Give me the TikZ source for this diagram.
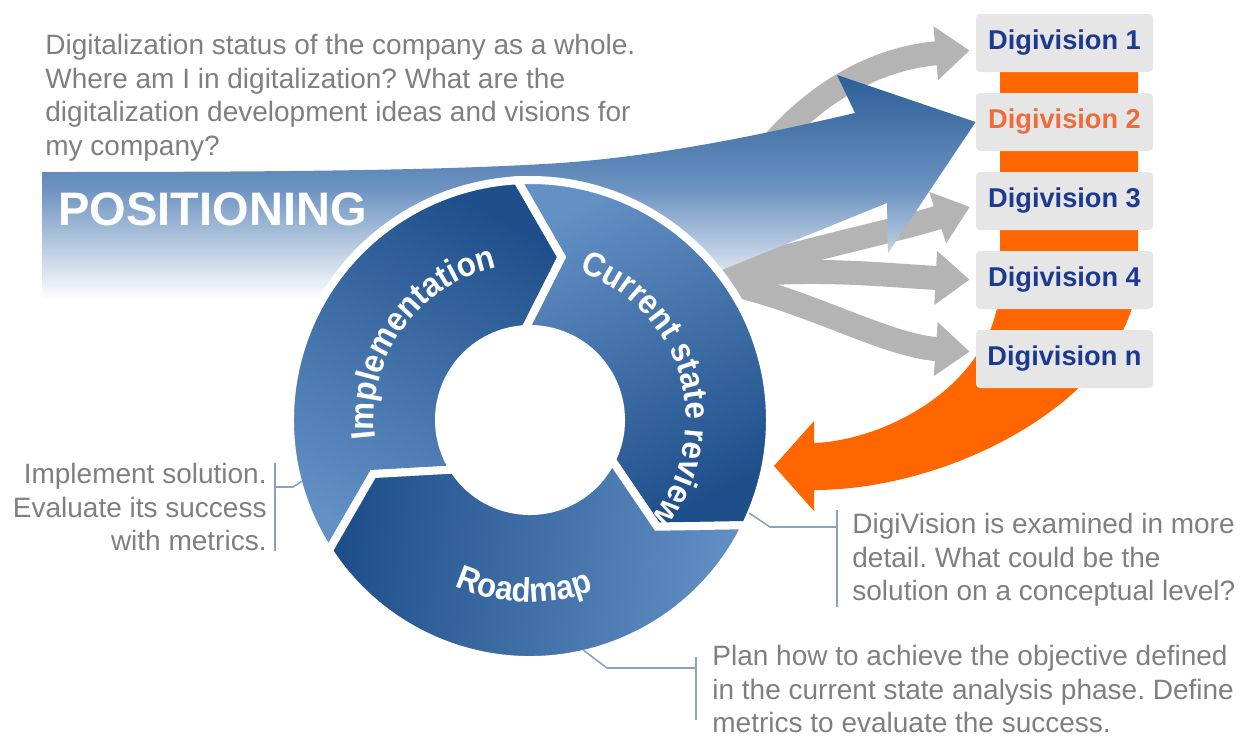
\documentclass[tikz,border=0pt]{standalone}
\usepackage{fontspec}
\setmainfont{Liberation Sans}
\newfontfamily\ringfam[FakeStretch=0.92]{Liberation Sans}
\usetikzlibrary{arrows.meta,decorations.text}
\definecolor{ringdark}{HTML}{1F4F8A}
\definecolor{ringlight}{HTML}{6391C6}
\definecolor{banddark}{HTML}{2B5E98}
\definecolor{bandmid}{HTML}{6B92C0}
\definecolor{notegray}{HTML}{7F7F7F}
\definecolor{linegray}{HTML}{8DA2BB}
\definecolor{arrowgray}{HTML}{B4B4B4}
\definecolor{dvblue}{HTML}{1C3A8E}
\definecolor{dvorange}{HTML}{F06A3C}
\definecolor{bandorange}{HTML}{FF6600}
\definecolor{boxgray}{HTML}{E6E6E6}
\newcommand\ringfont{\ringfam\fontsize{17}{17}\selectfont\bfseries}
\frenchspacing
\begin{document}
\begin{tikzpicture}
[x=0.5pt,y=-0.5pt,
 note/.style={font=\fontsize{14}{16.75}\selectfont,text=notegray,inner sep=0pt},
 dvbox/.style={fill=boxgray,rounded corners=2pt,minimum width=88.5pt,minimum height=29pt,inner sep=0pt,font=\fontsize{13.6}{13.6}\selectfont\bfseries},
 grayarrow/.style={draw=arrowgray,line width=12pt,-{Triangle[length=17pt,width=26pt]},shorten >=3pt},
 callout/.style={draw=linegray,line width=0.8pt},
 seg/.style={draw=white,line width=4pt},
 ringtext/.style={decorate,decoration={text along path,text align=center,text color=white,text={|\ringfont|#1}}}]
\useasboundingbox (0,0) rectangle (1242,736);

\fill[bandorange] (1000,60) -- (1138,60) -- (1138,270) .. controls (1138,390) and (960,490) .. (814,490)
 -- (814,511) -- (774,466) -- (814,421) -- (814,443) .. controls (890,440) and (1000,380) .. (1000,280) -- cycle;

\foreach \i/\t/\c in {1/1/dvblue,2/2/dvorange,3/3/dvblue,4/4/dvblue,5/n/dvblue}
  \node[dvbox,text=\c] (dv\i) at (1064.5,{43+79*(\i-1)}) {Digivision \t};

\coordinate (src) at (705,280);
\draw[grayarrow] (src) .. controls (730,160) and (830,62) .. ([yshift=-3.5pt]dv1.west);
\draw[grayarrow] (src) .. controls (800,250) and (900,230) .. ([yshift=-2pt]dv3.west);
\draw[grayarrow] (src) .. controls (800,265) and (880,275) .. (dv4.west);
\draw[grayarrow] (src) .. controls (790,290) and (880,345) .. ([yshift=3.5pt]dv5.west);

\shade[top color=banddark,bottom color=white,middle color=bandmid] (42,172)
 .. controls (300,172) and (450,170) .. (560,163) .. controls (660,156) and (760,135) .. (855,113)
 -- (837,75) -- (dv2.west) -- (888,253) -- (887,203) -- (717,272) -- (560,300) -- (42,300) -- cycle;
\node[anchor=base west,inner sep=0pt,text=white,font=\fontsize{23.5}{23.5}\selectfont\bfseries] (pos) at (58,225) {POSITIONING};

\begin{scope}[shift={(530,420)}]
\draw[seg,top color=ringdark,bottom color=ringlight,shading angle=-29] (147:240) arc[start angle=147,end angle=267,radius=240]
 -- (281:166) -- (267:91) arc[start angle=267,end angle=147,radius=91] -- (161:166) -- cycle;
\draw[seg,top color=ringdark,bottom color=ringlight,shading angle=-153] (-93:240) arc[start angle=-93,end angle=26,radius=240]
 -- (40:166) -- (26:91) arc[start angle=26,end angle=-93,radius=91] -- (-79:166) -- cycle;
\draw[seg,top color=ringdark,bottom color=ringlight,shading angle=81] (26:240) arc[start angle=26,end angle=147,radius=240]
 -- (161:166) -- (147:91) arc[start angle=147,end angle=26,radius=91] -- (40:166) -- cycle;
\path[ringtext=Implementation] (155.5:156) arc[start angle=155.5,end angle=275.5,radius=156];
\path[ringtext=Current state review] (-86.5:156) arc[start angle=-86.5,end angle=53.5,radius=156];
\path[ringtext=Roadmap] (137:182) arc[start angle=137,end angle=47,radius=182];
\coordinate (implpt) at (165:236);
\coordinate (reviewpt) at (23:238);
\coordinate (roadpt) at (77:236);
\end{scope}

\node[note,align=left,anchor=north west] (posnote) at (45,34) {Digitalization status of the company as a whole.\\Where am I in digitalization? What are the\\digitalization development ideas and visions for\\my company?};

\node[note,align=right,anchor=north east] (implnote) at (267,463) {Implement solution.\\Evaluate its success\\with metrics.};
\draw[callout] ([xshift=4pt]implnote.north east) -- ([xshift=4pt]implnote.south east);
\draw[callout] (implpt) -- (293,487) -- (275,487);

\node[note,align=left,anchor=north west] (reviewnote) at (852,513) {DigiVision is examined in more\\detail. What could be the\\solution on a conceptual level?};
\draw[callout] ([shift={(-7.5pt,1.5pt)}]reviewnote.north west) -- ([xshift=-7.5pt]reviewnote.south west);
\draw[callout] (reviewpt) -- (770,527) -- (837,527);

\node[note,align=left,anchor=north west] (roadnote) at (712,645) {Plan how to achieve the objective defined\\in the current state analysis phase. Define\\metrics to evaluate the success.};
\draw[callout] ([shift={(-8pt,-6pt)}]roadnote.north west) -- ++(0,63);
\draw[callout] (roadpt) -- (607,668) -- (696,668);
\end{tikzpicture}
\end{document}
